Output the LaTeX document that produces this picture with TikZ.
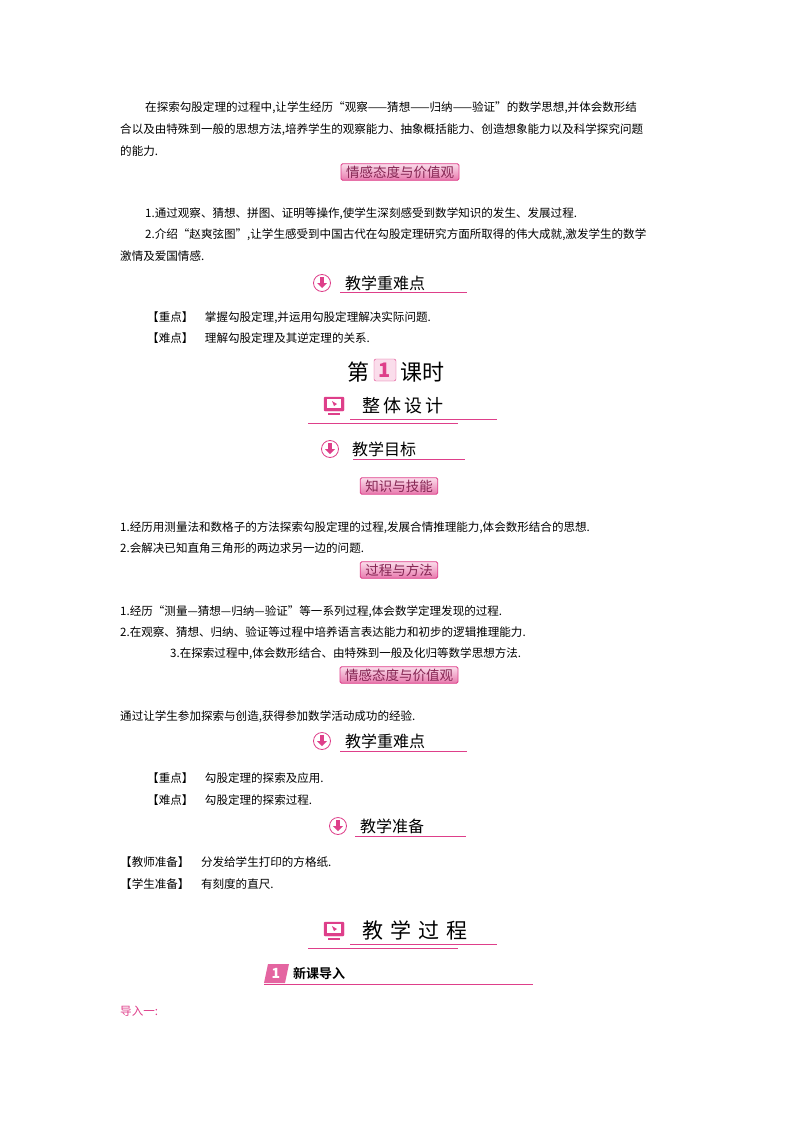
\documentclass[tikz,border=0pt]{standalone}
\usepackage{fontspec}
\setmainfont{Noto Sans CJK SC}
\newfontfamily\cjkb{Noto Sans CJK SC Bold}
\usetikzlibrary{calc}
\definecolor{pk}{HTML}{DE3F8A}
\definecolor{pkl}{HTML}{F7C6DD}
\begin{document}
\begin{tikzpicture}[x=1pt,y=-1pt,
 txt/.style={anchor=base west,inner sep=0pt,font=\fontsize{11.55}{13}\selectfont},
 badge/.style={draw=pk,line width=0.8pt,rounded corners=1.5pt,top color=pkl!60,bottom color=pk!70,text=pk!60!black,inner xsep=5pt,inner ysep=2pt,font=\fontsize{13.5}{15}\selectfont},
 htxt/.style={anchor=base west,inner sep=0pt,font=\fontsize{16}{18}\selectfont},
 hline/.style={draw=pk,line width=0.7pt},
 circ/.style={circle,draw=pk,line width=0.8pt,fill=white,minimum size=17pt,inner sep=0pt}]
\useasboundingbox (0,0) rectangle (800,1132);
\newcommand\dnicon[2]{\node[circ] (#1) at #2 {}; \fill[pk] ($(#1)+(-2,-6)$) rectangle ($(#1)+(2,0)$); \fill[pk] ($(#1)+(-5,0)$)--($(#1)+(5,0)$)--($(#1)+(0,5)$)--cycle;}
\newcommand\monicon[2]{\node[draw=pk,fill=pk,minimum width=20pt,minimum height=14pt,inner sep=0pt,rounded corners=1pt] (#1) at #2 {}; \fill[white] ($(#1)+(-7,-5)$) rectangle ($(#1)+(7,4)$); \fill[pk] ($(#1)+(-2,-3)$)--($(#1)+(3,0)$)--($(#1)+(0,2)$)--cycle; \fill[pk] ($(#1)+(-6,9)$) rectangle ($(#1)+(6,11)$);}
\node[txt] (p1) at (145,111) {在探索勾股定理的过程中,让学生经历“观察——猜想——归纳——验证”的数学思想,并体会数形结};
\node[txt] (p2) at (120,133) {合以及由特殊到一般的思想方法,培养学生的观察能力、抽象概括能力、创造想象能力以及科学探究问题};
\node[txt] (p3) at (120,155) {的能力.};
\node[badge] (b1) at (400,172) {情感态度与价值观};
\node[txt] (q1) at (145,217) {1.通过观察、猜想、拼图、证明等操作,使学生深刻感受到数学知识的发生、发展过程.};
\node[txt] (q2) at (145,238) {2.介绍“赵爽弦图”,让学生感受到中国古代在勾股定理研究方面所取得的伟大成就,激发学生的数学};
\node[txt] (q3) at (120,260) {激情及爱国情感.};
\dnicon{c1}{(322,283)}
\node[htxt] (h1) at (345,289) {教学重难点};
\draw[hline] (340,292) -- (467,292);
\node[txt] (r1) at (147,321) {【重点】\quad 掌握勾股定理,并运用勾股定理解决实际问题.};
\node[txt] (r2) at (147,342) {【难点】\quad 理解勾股定理及其逆定理的关系.};
\node[anchor=base east,inner sep=0pt,font=\fontsize{22}{24}\selectfont] (k1) at (370,380) {第};
\node[draw=pk,fill=pkl!60,rounded corners=2pt,minimum size=22pt,inner sep=0pt,text=pk,font=\bfseries\fontsize{20}{22}\selectfont] (k2) at (385,370) {1};
\node[anchor=base west,inner sep=0pt,font=\fontsize{22}{24}\selectfont] (k3) at (400,380) {课时};
\monicon{m1}{(334,404)}
\node[htxt,font=\fontsize{18}{20}\selectfont] (h2) at (362,412) {整\,体\,设\,计};
\draw[hline] (350,419) -- (497,419);
\draw[hline] (308,423) -- (458,423);
\dnicon{c2}{(330,449)}
\node[htxt] (h3) at (352,455) {教学目标};
\draw[hline] (353,459) -- (465,459);
\node[badge] (b2) at (399,486) {知识与技能};
\node[txt] (s1) at (120,531) {1.经历用测量法和数格子的方法探索勾股定理的过程,发展合情推理能力,体会数形结合的思想.};
\node[txt] (s2) at (120,552) {2.会解决已知直角三角形的两边求另一边的问题.};
\node[badge] (b3) at (399,570) {过程与方法};
\node[txt] (t1) at (120,615) {1.经历“测量—猜想—归纳—验证”等一系列过程,体会数学定理发现的过程.};
\node[txt] (t2) at (120,636) {2.在观察、猜想、归纳、验证等过程中培养语言表达能力和初步的逻辑推理能力.};
\node[txt] (t3) at (170,657) {3.在探索过程中,体会数形结合、由特殊到一般及化归等数学思想方法.};
\node[badge] (b4) at (399,675) {情感态度与价值观};
\node[txt] (u1) at (120,720) {通过让学生参加探索与创造,获得参加数学活动成功的经验.};
\dnicon{c3}{(322,741)}
\node[htxt] (h4) at (345,747) {教学重难点};
\draw[hline] (340,751) -- (467,751);
\node[txt] (v1) at (147,782) {【重点】\quad 勾股定理的探索及应用.};
\node[txt] (v2) at (147,804) {【难点】\quad 勾股定理的探索过程.};
\dnicon{c4}{(338,826)}
\node[htxt] (h5) at (360,832) {教学准备};
\draw[hline] (355,836) -- (466,836);
\node[txt] (w1) at (120,866) {【教师准备】\quad 分发给学生打印的方格纸.};
\node[txt] (w2) at (120,888) {【学生准备】\quad 有刻度的直尺.};
\monicon{m2}{(334,929)}
\node[htxt,font=\fontsize{21}{23}\selectfont] (h6) at (362,938) {教\,\,学\,\,过\,\,程};
\draw[hline] (350,944) -- (497,944);
\draw[hline] (308,948) -- (458,948);
\fill[pk!80] (268,964) -- (289,964) -- (285,983) -- (264,983) -- cycle;
\node[inner sep=0pt,text=white,font=\bfseries\itshape\fontsize{14}{16}\selectfont] (n1) at (276,973) {1};
\node[anchor=base west,inner sep=0pt,font=\cjkb\fontsize{13}{15}\selectfont] (h7) at (293,978) {新课导入};
\draw[hline] (264,984) -- (533,984);
\node[txt,text=pk] (x1) at (120,1015) {导入一:};
\end{tikzpicture}
\end{document}
